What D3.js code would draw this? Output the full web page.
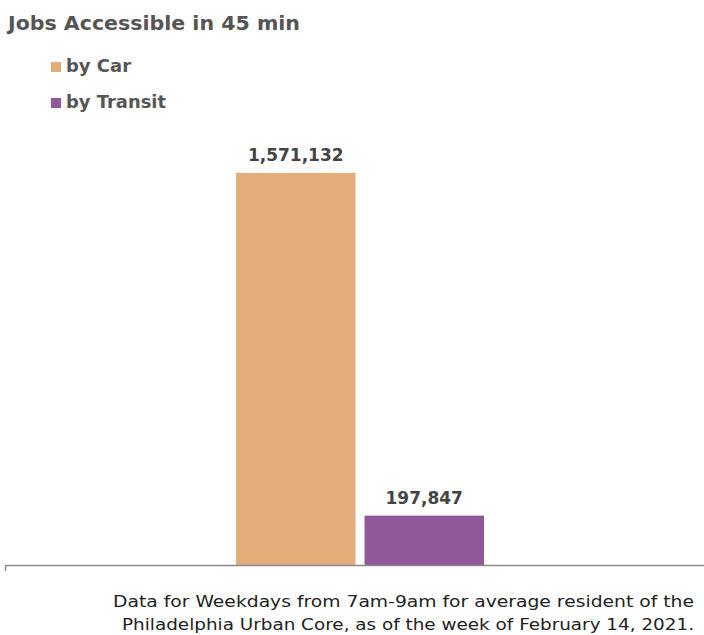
<!DOCTYPE html>
<html>
<head>
<meta charset="utf-8">
<script src="https://cdn.jsdelivr.net/npm/d3@7"></script>
<style>
  html, body { margin: 0; padding: 0; background: #fff; }
  svg { display: block; }
</style>
</head>
<body>
<svg id="chart" width="704" height="635"></svg>
<script>
// Jobs reachable within 45 minutes, by travel mode
const modes = ["by Car", "by Transit"];
const jobs = [1571132, 197847];
const colors = ["#E2AD78", "#90579B"];
const title = "Jobs Accessible in 45 min";
const noteLines = [
  "Data for Weekdays from 7am-9am for average resident of the",
  "Philadelphia Urban Core, as of the week of February 14, 2021."
];

const svg = d3.select("#chart");
const textColor = "#555555";
const font = "'DejaVu Sans', 'Open Sans', sans-serif";

const x = d3.scaleBand().domain(modes).range([236, 484]).paddingInner(0.07).paddingOuter(0);
const y = d3.scaleLinear().domain([0, d3.max(jobs)]).range([565, 173]);
const color = d3.scaleOrdinal().domain(modes).range(colors);

const data = modes.map((m, i) => ({ mode: m, value: jobs[i] }));

// Title
svg.append("text")
  .attr("x", 8).attr("y", 30)
  .attr("font-family", font)
  .attr("font-weight", 700)
  .attr("font-size", 20)
  .attr("fill", textColor)
  .attr("textLength", 292)
  .attr("lengthAdjust", "spacingAndGlyphs")
  .text(title);

// Legend
const legendWidths = [65, 100];
const legend = svg.append("g");
modes.forEach((m, i) => {
  const ly = 72 + i * 36;
  legend.append("rect")
    .attr("x", 51).attr("y", ly - 10)
    .attr("width", 10).attr("height", 10)
    .attr("fill", color(m));
  legend.append("text")
    .attr("x", 66).attr("y", ly)
    .attr("font-family", font)
    .attr("font-weight", 700)
    .attr("font-size", 17)
    .attr("fill", textColor)
    .attr("textLength", legendWidths[i])
    .attr("lengthAdjust", "spacingAndGlyphs")
    .text(m);
});

// Bars
svg.append("g").selectAll("rect")
  .data(data)
  .join("rect")
  .attr("x", d => x(d.mode))
  .attr("y", d => y(d.value))
  .attr("width", x.bandwidth())
  .attr("height", d => y(0) - y(d.value))
  .attr("fill", d => color(d.mode));

// Value labels
const fmt = d3.format(",");
svg.append("g").selectAll("text")
  .data(data)
  .join("text")
  .attr("x", d => x(d.mode) + x.bandwidth() / 2)
  .attr("y", d => y(d.value) - 12)
  .attr("text-anchor", "middle")
  .attr("font-family", font)
  .attr("font-weight", 700)
  .attr("font-size", 17)
  .attr("fill", "#444444")
  .text(d => fmt(d.value));

// Baseline with a small tick at the left end
const axis = svg.append("g").attr("transform", `translate(0,${y(0)})`);
axis.append("line")
  .attr("x1", 5).attr("x2", 704)
  .attr("y1", 0.5).attr("y2", 0.5)
  .attr("stroke", "#8a8a8a").attr("stroke-width", 1.5);
axis.append("line")
  .attr("x1", 5.5).attr("x2", 5.5)
  .attr("y1", 0).attr("y2", 6)
  .attr("stroke", "#8a8a8a").attr("stroke-width", 1.5);

// Footnote
const noteWidths = [581, 572];
svg.append("g").selectAll("text")
  .data(noteLines)
  .join("text")
  .attr("x", 694)
  .attr("y", (d, i) => 607 + i * 23)
  .attr("text-anchor", "end")
  .attr("font-family", font)
  .attr("font-size", 16.5)
  .attr("fill", "#222222")
  .attr("textLength", (d, i) => noteWidths[i])
  .attr("lengthAdjust", "spacingAndGlyphs")
  .text(d => d);
</script>
</body>
</html>
